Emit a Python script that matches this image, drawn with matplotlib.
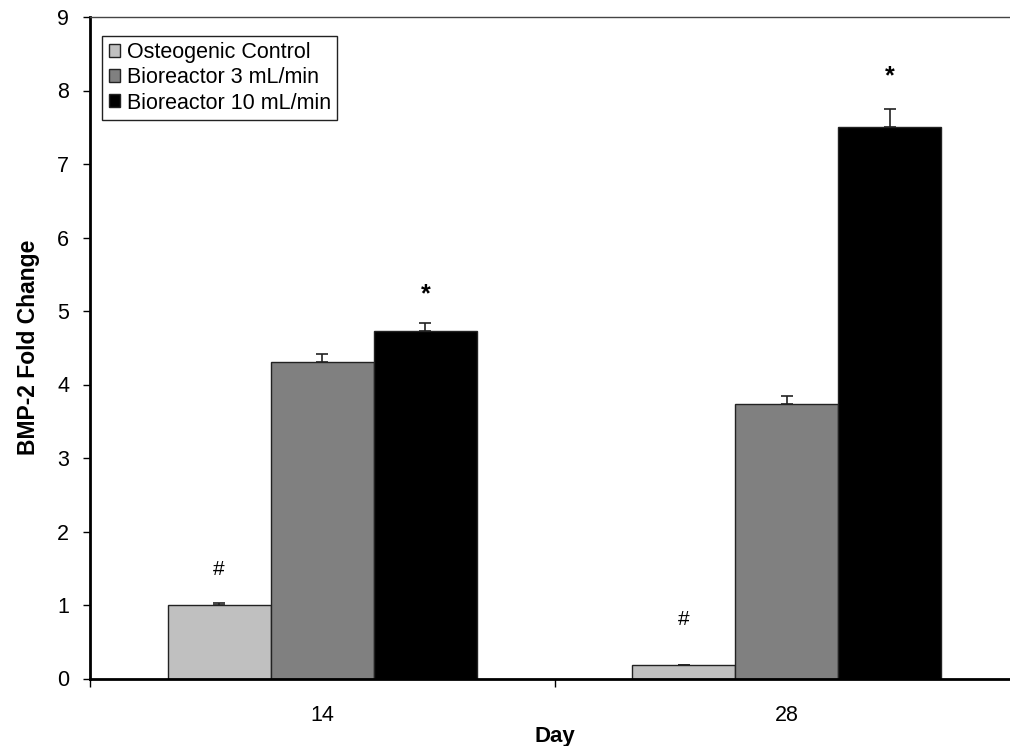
import matplotlib.pyplot as plt
import numpy as np

plt.rcParams['font.family'] = ['Liberation Sans', 'DejaVu Sans']

days = ['14', '28']
series = ['Osteogenic Control', 'Bioreactor 3 mL/min', 'Bioreactor 10 mL/min']
control = [1.0, 0.19]
br3 = [4.31, 3.73]
br10 = [4.73, 7.50]
control_err = [0.03, 0.0]
br3_err = [0.11, 0.12]
br10_err = [0.11, 0.25]
colors = ['#c0c0c0', '#808080', '#000000']

# significance marks: (day index, series index, label, y position)
marks = [(0, 0, '#', 1.48), (1, 0, '#', 0.8), (0, 2, '*', 5.23), (1, 2, '*', 8.19)]

fig = plt.figure(figsize=(10.1, 7.46), dpi=100)
ax = fig.add_axes([90 / 1010, 1 - 678.5 / 746, 929 / 1010, 661.5 / 746])

x = np.arange(len(days))
w = 0.222
values = [control, br3, br10]
errs = [control_err, br3_err, br10_err]
for i, (vals, err) in enumerate(zip(values, errs)):
    pos = x + (i - 1) * w
    ax.bar(pos, vals, w, color=colors[i], edgecolor='#222222', linewidth=1.0,
           label=series[i], zorder=2)
    ax.errorbar(pos, vals, yerr=[np.zeros(len(err)), err], fmt='none',
                ecolor='#222222', elinewidth=1.2, capsize=4, capthick=1.2, zorder=3)

for d, s, txt, yy in marks:
    if txt == '*':
        ax.text(x[d] + (s - 1) * w, yy, txt, ha='center', va='center',
                fontsize=18, fontweight='bold')
    else:
        ax.text(x[d] + (s - 1) * w, yy, txt, ha='center', va='center', fontsize=15)

ax.set_xlim(-0.5, 1.5)
ax.set_ylim(0, 9)
ax.set_yticks(range(10))
ax.set_xticks(x)
ax.set_xticklabels(days)
ax.set_xticks([-0.5, 0.5, 1.5], minor=True)
ax.tick_params(axis='x', which='major', length=0, pad=19, labelsize=15.5)
ax.tick_params(axis='x', which='minor', length=6, width=1, direction='out')
ax.tick_params(axis='y', length=5, width=1, direction='out', labelsize=15.5, pad=10)

ax.spines['left'].set_linewidth(2)
ax.spines['bottom'].set_linewidth(2)
ax.spines['top'].set_linewidth(1)
ax.spines['top'].set_color('#444444')
ax.spines['right'].set_visible(False)

ax.set_ylabel('BMP-2 Fold Change', fontsize=16.5, fontweight='bold', labelpad=12)
ax.set_xlabel('Day', fontsize=16, fontweight='bold', labelpad=0)

leg = ax.legend(loc='upper left', bbox_to_anchor=(0.013, 0.972), fontsize=15.5,
                frameon=True, fancybox=False, edgecolor='#222222', framealpha=1,
                handlelength=0.55, handleheight=0.55, handletextpad=0.3,
                borderpad=0.3, labelspacing=0.2, borderaxespad=0)
leg.get_frame().set_linewidth(1)

fig.savefig('out.png', dpi=100)
